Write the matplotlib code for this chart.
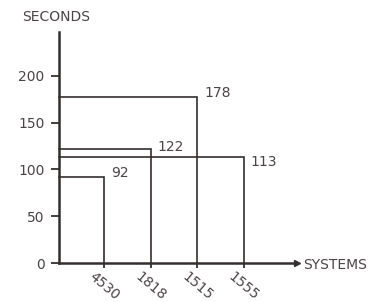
import matplotlib
matplotlib.use("Agg")
import matplotlib.pyplot as plt

# data
systems = ["4530", "1818", "1515", "1555"]
seconds = [92, 122, 178, 113]
yticks = [0, 50, 100, 150, 200]

# vertical nudge (px) of each value label relative to its line
label_dy = [4, 2, 4, -4.5]

ink = "#352e2e"
txt = "#4a4444"
plt.rcParams["font.family"] = ["DejaVu Sans"]
plt.rcParams["font.size"] = 10

fig = plt.figure(figsize=(3.8, 3.02), dpi=100)
ax = fig.add_axes([0.1553, 0.1291, 0.626, 0.765])

x0 = 0.034
xs = list(range(1, len(systems) + 1))
ax.set_xlim(x0, x0 + 5.107)
ax.set_ylim(0, 247)

for x, v in zip(xs, seconds):
    ax.plot([x0, x, x], [v, v, 0], color=ink, lw=1.2, solid_joinstyle="miter",
            clip_on=False)

for x, v, dy in zip(xs, seconds, label_dy):
    ax.annotate(str(v), (x, v), xytext=(5, dy * 0.72), textcoords="offset points",
                ha="left", va="center", color=txt)

for s in ["top", "right"]:
    ax.spines[s].set_visible(False)
for s in ["left", "bottom"]:
    ax.spines[s].set_linewidth(1.8)
    ax.spines[s].set_color(ink)

# arrow head at the end of the x axis
ax.plot([1], [0], marker=">", ms=4, color=ink, transform=ax.transAxes, clip_on=False)

ax.set_yticks(yticks)
ax.set_yticklabels([str(t) for t in yticks], color=txt)
ax.tick_params(axis="y", direction="out", length=6, width=1.3, pad=4.5, color=ink)

ax.set_xticks(xs)
ax.set_xticklabels(systems, rotation=-40, ha="center", va="center",
                   rotation_mode="anchor", color=txt)
ax.tick_params(axis="x", direction="out", length=3.5, width=1.3, pad=13, color=ink)

fig.text(22 / 380, 1 - 17 / 302, "SECONDS", ha="left", va="center", color=txt)
fig.text(303 / 380, 1 - 265 / 302, "SYSTEMS", ha="left", va="center", color=txt)

fig.savefig("out.png", dpi=100)
